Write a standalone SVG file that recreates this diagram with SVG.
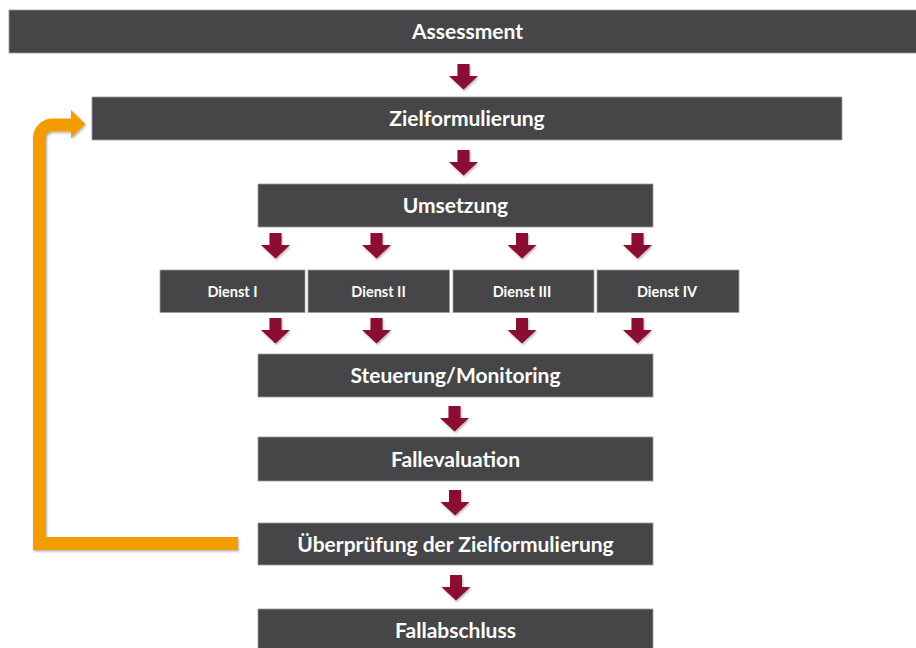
<svg xmlns="http://www.w3.org/2000/svg" width="916" height="648" viewBox="0 0 916 648">
<defs>
<style>
.box{fill:#464648;stroke:#9c9c9c;stroke-width:0.8}
.t{font-family:Lato,"Open Sans","Liberation Sans",sans-serif;font-weight:bold;fill:#ffffff;text-anchor:middle}
.big{font-size:21px}
.sm{font-size:14.5px}
.arr{fill:#8b0a33}
</style>
<filter id="sh" x="-30%" y="-30%" width="160%" height="160%">
<feDropShadow dx="1" dy="1.5" stdDeviation="1.2" flood-color="#000" flood-opacity="0.3"/>
</filter>
<path id="a" d="M-6 0H6V12H14.5L0 25.5L-14.5 12H-6Z"/>
</defs>
<rect width="916" height="648" fill="#ffffff"/>
<g id="assessment"><rect class="box" x="9" y="10" width="920" height="43"/><text class="t big" x="467.5" y="38.5">Assessment</text></g>
<g id="zielformulierung"><rect class="box" x="92" y="97" width="750" height="43"/><text class="t big" x="467" y="125.5">Zielformulierung</text></g>
<g id="umsetzung"><rect class="box" x="258" y="184" width="395" height="43"/><text class="t big" x="455.5" y="212.5">Umsetzung</text></g>
<g id="dienst1"><rect class="box" x="160" y="270" width="145" height="42.5"/><text class="t sm" x="232.5" y="296.5">Dienst I</text></g>
<g id="dienst2"><rect class="box" x="308" y="270" width="141.5" height="42.5"/><text class="t sm" x="378.5" y="296.5">Dienst II</text></g>
<g id="dienst3"><rect class="box" x="453" y="270" width="141" height="42.5"/><text class="t sm" x="522" y="296.5">Dienst III</text></g>
<g id="dienst4"><rect class="box" x="597" y="270" width="142" height="42.5"/><text class="t sm" x="667" y="296.5">Dienst IV</text></g>
<g id="steuerung"><rect class="box" x="258" y="354" width="395" height="43"/><text class="t big" x="455.5" y="382.5">Steuerung/Monitoring</text></g>
<g id="fallevaluation"><rect class="box" x="258" y="437" width="395" height="44"/><text class="t big" x="455.5" y="466.5">Fallevaluation</text></g>
<g id="ueberpruefung"><rect class="box" x="258" y="523" width="395" height="42"/><text class="t big" x="455.5" y="551.5">Überprüfung der Zielformulierung</text></g>
<g id="fallabschluss"><rect class="box" x="258" y="609" width="395" height="45"/><text class="t big" x="455.5" y="637.5">Fallabschluss</text></g>
<g id="connectors">
<g class="arr" filter="url(#sh)">
<use href="#a" x="463.5" y="64"/>
<use href="#a" x="463.5" y="150"/>
<use href="#a" x="275.5" y="233"/>
<use href="#a" x="376.5" y="233"/>
<use href="#a" x="522" y="233"/>
<use href="#a" x="637.5" y="233"/>
<use href="#a" x="275.5" y="318"/>
<use href="#a" x="376.5" y="318"/>
<use href="#a" x="522" y="318"/>
<use href="#a" x="637.5" y="318"/>
<use href="#a" x="454.5" y="406"/>
<use href="#a" x="455" y="490"/>
<use href="#a" x="456" y="575"/>
</g>
<g filter="url(#sh)">
<path d="M238 543.5H39.5V138A13 13 0 0 1 52.5 125H73" fill="none" stroke="#f39c00" stroke-width="13" stroke-linejoin="miter"/>
<path d="M71 110L85.5 124L71 138Z" fill="#f39c00"/>
</g>
</g>
</svg>
